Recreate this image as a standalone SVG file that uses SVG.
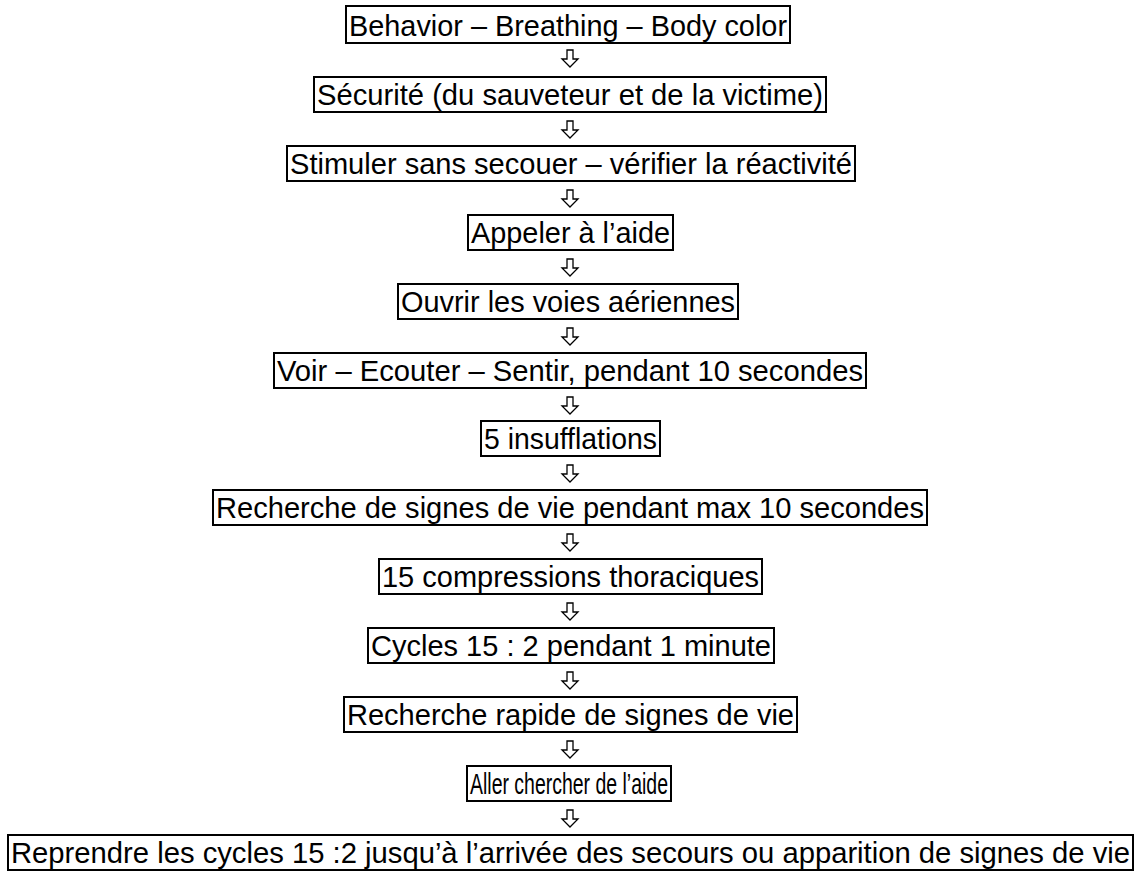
<svg xmlns="http://www.w3.org/2000/svg" width="1140" height="871" viewBox="0 0 1140 871">
<style>
.box{fill:#fff;stroke:#000;stroke-width:2}
.lbl{font-family:"Liberation Sans",Arial,sans-serif;font-size:29px;fill:#000}
.arr{fill:#fff;stroke:#000;stroke-width:1.3;stroke-linejoin:miter}
</style>
<defs>
<path id="ar" d="M-3,0 H3 V9 H8 L0,17 L-8,9 H-3 Z"/>
</defs>
<rect width="1140" height="871" fill="#fff"/>
<g id="connectors">
<use href="#ar" class="arr" x="570" y="50"/>
<use href="#ar" class="arr" x="570" y="121"/>
<use href="#ar" class="arr" x="570" y="190"/>
<use href="#ar" class="arr" x="570" y="259"/>
<use href="#ar" class="arr" x="570" y="328"/>
<use href="#ar" class="arr" x="570" y="397"/>
<use href="#ar" class="arr" x="570" y="465"/>
<use href="#ar" class="arr" x="570" y="534"/>
<use href="#ar" class="arr" x="570" y="603"/>
<use href="#ar" class="arr" x="570" y="672"/>
<use href="#ar" class="arr" x="570" y="741"/>
<use href="#ar" class="arr" x="570" y="810"/>
</g>
<g id="n1"><rect class="box" x="346" y="6" width="444" height="37"/><text class="lbl" x="349" y="36" textLength="438" lengthAdjust="spacingAndGlyphs">Behavior – Breathing – Body color</text></g>
<g id="n2"><rect class="box" x="314" y="77" width="512" height="35"/><text class="lbl" x="317" y="105" textLength="506" lengthAdjust="spacingAndGlyphs">Sécurité (du sauveteur et de la victime)</text></g>
<g id="n3"><rect class="box" x="287" y="146" width="568" height="35"/><text class="lbl" x="290" y="174" textLength="562" lengthAdjust="spacingAndGlyphs">Stimuler sans secouer – vérifier la réactivité</text></g>
<g id="n4"><rect class="box" x="468" y="215" width="205" height="35"/><text class="lbl" x="471" y="243" textLength="199" lengthAdjust="spacingAndGlyphs">Appeler à l’aide</text></g>
<g id="n5"><rect class="box" x="398" y="284" width="340" height="35"/><text class="lbl" x="401" y="312" textLength="334" lengthAdjust="spacingAndGlyphs">Ouvrir les voies aériennes</text></g>
<g id="n6"><rect class="box" x="274" y="353" width="592" height="35"/><text class="lbl" x="277" y="381" textLength="586" lengthAdjust="spacingAndGlyphs">Voir – Ecouter – Sentir, pendant 10 secondes</text></g>
<g id="n7"><rect class="box" x="481" y="421" width="179" height="35"/><text class="lbl" x="484" y="449" textLength="173" lengthAdjust="spacingAndGlyphs">5 insufflations</text></g>
<g id="n8"><rect class="box" x="213" y="490" width="714" height="35"/><text class="lbl" x="216" y="518" textLength="708" lengthAdjust="spacingAndGlyphs">Recherche de signes de vie pendant max 10 secondes</text></g>
<g id="n9"><rect class="box" x="379" y="559" width="383" height="35"/><text class="lbl" x="382" y="587" textLength="377" lengthAdjust="spacingAndGlyphs">15 compressions thoraciques</text></g>
<g id="n10"><rect class="box" x="368" y="628" width="406" height="35"/><text class="lbl" x="371" y="656" textLength="400" lengthAdjust="spacingAndGlyphs">Cycles 15 : 2 pendant 1 minute</text></g>
<g id="n11"><rect class="box" x="344" y="697" width="453" height="35"/><text class="lbl" x="347" y="725" textLength="447" lengthAdjust="spacingAndGlyphs">Recherche rapide de signes de vie</text></g>
<g id="n12"><rect class="box" x="467" y="766" width="204" height="35"/><text class="lbl" x="470" y="794" textLength="198" lengthAdjust="spacingAndGlyphs">Aller chercher de l’aide</text></g>
<g id="n13"><rect class="box" x="8" y="835" width="1125" height="35"/><text class="lbl" x="11" y="863" textLength="1119" lengthAdjust="spacingAndGlyphs">Reprendre les cycles 15 :2 jusqu’à l’arrivée des secours ou apparition de signes de vie</text></g>
</svg>
